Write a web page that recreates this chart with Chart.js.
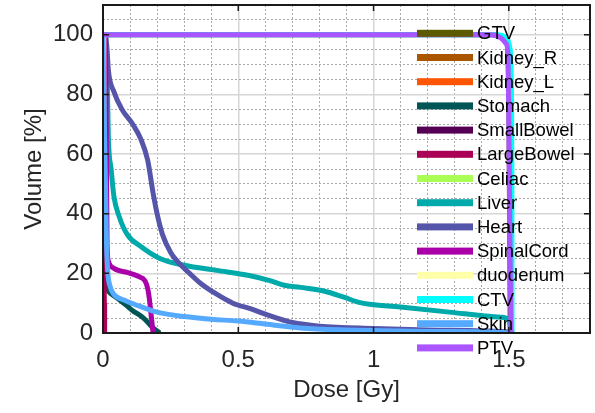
<!DOCTYPE html>
<html>
<head>
<meta charset="utf-8">
<script src="https://cdn.jsdelivr.net/npm/chart.js@4"></script>
<style>
  html, body { margin: 0; padding: 0; background: #fff; }
  #wrap { width: 595px; height: 413px; }
</style>
</head>
<body>
<div id="wrap"><canvas id="dvh" width="595" height="413"></canvas></div>
<script>
// structure names, in legend order
const structures = ["GTV", "Kidney_R", "Kidney_L", "Stomach", "SmallBowel", "LargeBowel", "Celiac",
  "Liver", "Heart", "SpinalCord", "duodenum", "CTV", "Skin", "PTV"];

// dose [Gy] / volume [%]
const gtvDose = [0, 1.45, 1.49, 1.5, 1.505];
const gtvVol = [100, 100, 98, 80, 0];
const kidneyRDose = [0, 0.003];
const kidneyRVol = [100, 40];
const kidneyLDose = [0, 0.003];
const kidneyLVol = [100, 40];
const stomachDose = [0, 0.004, 0.008, 0.012, 0.02, 0.04, 0.063, 0.09, 0.11, 0.15, 0.185, 0.21];
const stomachVol = [100, 60, 30, 17, 14, 12.5, 11, 9, 7.5, 5, 1.7, 0];
const smallBowelDose = [0, 0.003];
const smallBowelVol = [100, 40];
const largeBowelDose = [0, 0.003, 0.005, 0.006];
const largeBowelVol = [30, 28, 10, 0];
const celiacDose = [0, 0.003];
const celiacVol = [100, 40];
const liverDose = [0, 0.01, 0.015, 0.02, 0.03, 0.04, 0.06, 0.09, 0.14, 0.21, 0.3, 0.42, 0.54, 0.62, 0.67,
  0.73, 0.82, 0.89, 0.95, 1.1, 1.28, 1.47, 1.5, 1.51];
const liverVol = [100, 95, 87, 65, 55, 46, 39, 33, 29, 25, 22.7, 21, 19.3, 17.5, 16,
  15.3, 14, 12, 10.2, 8.7, 7, 5.3, 4.5, 0];
const heartDose = [0.01, 0.015, 0.02, 0.04, 0.07, 0.11, 0.14, 0.165, 0.185, 0.2, 0.22, 0.25, 0.275, 0.32,
  0.36, 0.42, 0.48, 0.55, 0.61, 0.7, 0.8, 1.0, 1.2, 1.4, 1.5, 1.52];
const heartVol = [100, 95, 88, 81, 75, 70, 65, 58, 47, 40, 33, 27, 24, 20,
  16.7, 13, 10, 8, 6, 3.5, 2.3, 1.5, 1, 0.7, 0.3, 0];
const spinalCordDose = [0, 0.008, 0.012, 0.015, 0.02, 0.04, 0.09, 0.13, 0.155, 0.165, 0.172, 0.178, 0.185];
const spinalCordVol = [100, 100, 70, 30, 24, 21.7, 20.3, 19, 17.5, 15, 11, 6, 0];
const duodenumDose = [0, 0.003];
const duodenumVol = [100, 40];
const ctvDose = [0, 1.46, 1.49, 1.503, 1.509, 1.511, 1.512];
const ctvVol = [100, 100, 99, 96, 85, 60, 0];
const skinDose = [0, 0.005, 0.01, 0.013, 0.018, 0.025, 0.04, 0.08, 0.15, 0.2, 0.3, 0.4, 0.5, 0.6,
  0.73, 0.9, 1.0, 1.2, 1.45, 1.5];
const skinVol = [100, 70, 45, 30, 20, 16, 13, 11, 8.5, 7, 5.5, 4.6, 4, 3,
  1.7, 1, 0.8, 0.5, 0.3, 0];
const ptvDose = [0, 1.43, 1.47, 1.49, 1.497, 1.5, 1.504, 1.508];
const ptvVol = [100, 100, 99, 97, 93, 70, 30, 0];

// x / y tick labels
const xTickLabels = [0, 0.5, 1, 1.5];
const yTickLabels = [0, 20, 40, 60, 80, 100];

const doses = [gtvDose, kidneyRDose, kidneyLDose, stomachDose, smallBowelDose, largeBowelDose, celiacDose,
  liverDose, heartDose, spinalCordDose, duodenumDose, ctvDose, skinDose, ptvDose];
const vols = [gtvVol, kidneyRVol, kidneyLVol, stomachVol, smallBowelVol, largeBowelVol, celiacVol,
  liverVol, heartVol, spinalCordVol, duodenumVol, ctvVol, skinVol, ptvVol];

const colors = ["#5c5a00", "#aa5500", "#ff5500", "#005555", "#550055", "#aa0055", "#aaff55",
  "#00aaaa", "#5555aa", "#aa00aa", "#ffffaa", "#00ffff", "#55aaff", "#aa55ff"];

const FONT = "'Liberation Sans', Arial, Helvetica, sans-serif";

const datasets = structures.map((name, i) => ({
  label: name,
  data: doses[i].map((d, k) => ({x: d, y: vols[i][k]})),
  borderColor: colors[i],
  backgroundColor: colors[i],
  borderWidth: 5,
  pointRadius: 0,
  fill: false,
  cubicInterpolationMode: doses[i].length > 4 ? 'monotone' : 'default',
  tension: 0,
  // later structures on top, like the original plot
  order: structures.length - 1 - i
}));

const near = (v, step) => Math.abs(v / step - Math.round(v / step)) < 1e-6;
const isMajorX = v => near(v, 0.5);
const isMajorY = v => near(v, 20);

const frame = {
  id: 'frame',
  afterDatasetsDraw(chart) {
    const {ctx, chartArea: a, scales: {x, y}} = chart;
    ctx.save();
    ctx.strokeStyle = '#1a1a1a';
    ctx.lineWidth = 1.5;
    ctx.beginPath();
    xTickLabels.forEach(v => {
      const px = x.getPixelForValue(v);
      ctx.moveTo(px, a.bottom); ctx.lineTo(px, a.bottom - 6);
      ctx.moveTo(px, a.top); ctx.lineTo(px, a.top + 6);
    });
    yTickLabels.forEach(v => {
      const py = y.getPixelForValue(v);
      ctx.moveTo(a.left, py); ctx.lineTo(a.left + 6, py);
      ctx.moveTo(a.right, py); ctx.lineTo(a.right - 6, py);
    });
    ctx.stroke();
    ctx.lineWidth = 2;
    ctx.strokeRect(a.left, a.top, a.right - a.left, a.bottom - a.top);
    ctx.restore();
  }
};

// legend laid over the plot like the MATLAB one
const overLegend = {
  id: 'overLegend',
  afterDraw(chart) {
    const ctx = chart.ctx;
    ctx.save();
    ctx.font = '18.5px ' + FONT;
    ctx.textBaseline = 'middle';
    ctx.textAlign = 'left';
    chart.data.datasets.forEach((ds, i) => {
      const cy = 33.3 + i * 24.2;
      ctx.fillStyle = ds.borderColor;
      ctx.fillRect(417, cy - 3.5, 56, 7);
      ctx.fillStyle = '#000';
      ctx.fillText(ds.label, 477, cy + 1);
    });
    ctx.restore();
  }
};

new Chart(document.getElementById('dvh'), {
  type: 'line',
  data: {datasets},
  options: {
    responsive: false,
    animation: false,
    layout: {padding: {top: 5, right: 5, left: 0, bottom: 0}},
    plugins: {legend: {display: false}, tooltip: {enabled: false}},
    scales: {
      x: {
        type: 'linear',
        min: 0,
        max: 1.8,
        afterFit: s => { s.height = 80; s.paddingLeft = 0; s.paddingRight = 0; },
        border: {display: false, dash: c => isMajorX(c.tick.value) ? [] : [2, 2]},
        grid: {
          drawTicks: false,
          color: c => isMajorX(c.tick.value) ? '#d6d6d6' : '#a8a8a8',
          lineWidth: c => isMajorX(c.tick.value) ? 1.5 : 1
        },
        ticks: {
          stepSize: 0.1,
          autoSkip: false,
          maxRotation: 0,
          padding: 13,
          color: '#262626',
          font: {family: FONT, size: 24},
          callback: v => near(v, 0.5) ? String(Math.round(v * 10) / 10) : ''
        },
        title: {
          display: true,
          text: 'Dose [Gy]',
          color: '#262626',
          font: {family: FONT, size: 24},
          padding: {top: 0, bottom: 8}
        }
      },
      y: {
        min: 0,
        max: 110,
        afterFit: s => { s.width = 103; s.paddingTop = 0; s.paddingBottom = 0; },
        border: {display: false, dash: c => isMajorY(c.tick.value) ? [] : [2, 2]},
        grid: {
          drawTicks: false,
          color: c => isMajorY(c.tick.value) ? '#d6d6d6' : '#a8a8a8',
          lineWidth: c => isMajorY(c.tick.value) ? 1.5 : 1
        },
        ticks: {
          stepSize: 5,
          autoSkip: false,
          padding: 10,
          color: '#262626',
          font: {family: FONT, size: 24},
          callback: v => (near(v, 20) && v <= 100) ? String(v) : ''
        },
        title: {
          display: true,
          text: 'Volume [%]',
          color: '#262626',
          font: {family: FONT, size: 24},
          padding: {top: 20, bottom: 0}
        }
      }
    }
  },
  plugins: [frame, overLegend]
});
</script>
</body>
</html>
